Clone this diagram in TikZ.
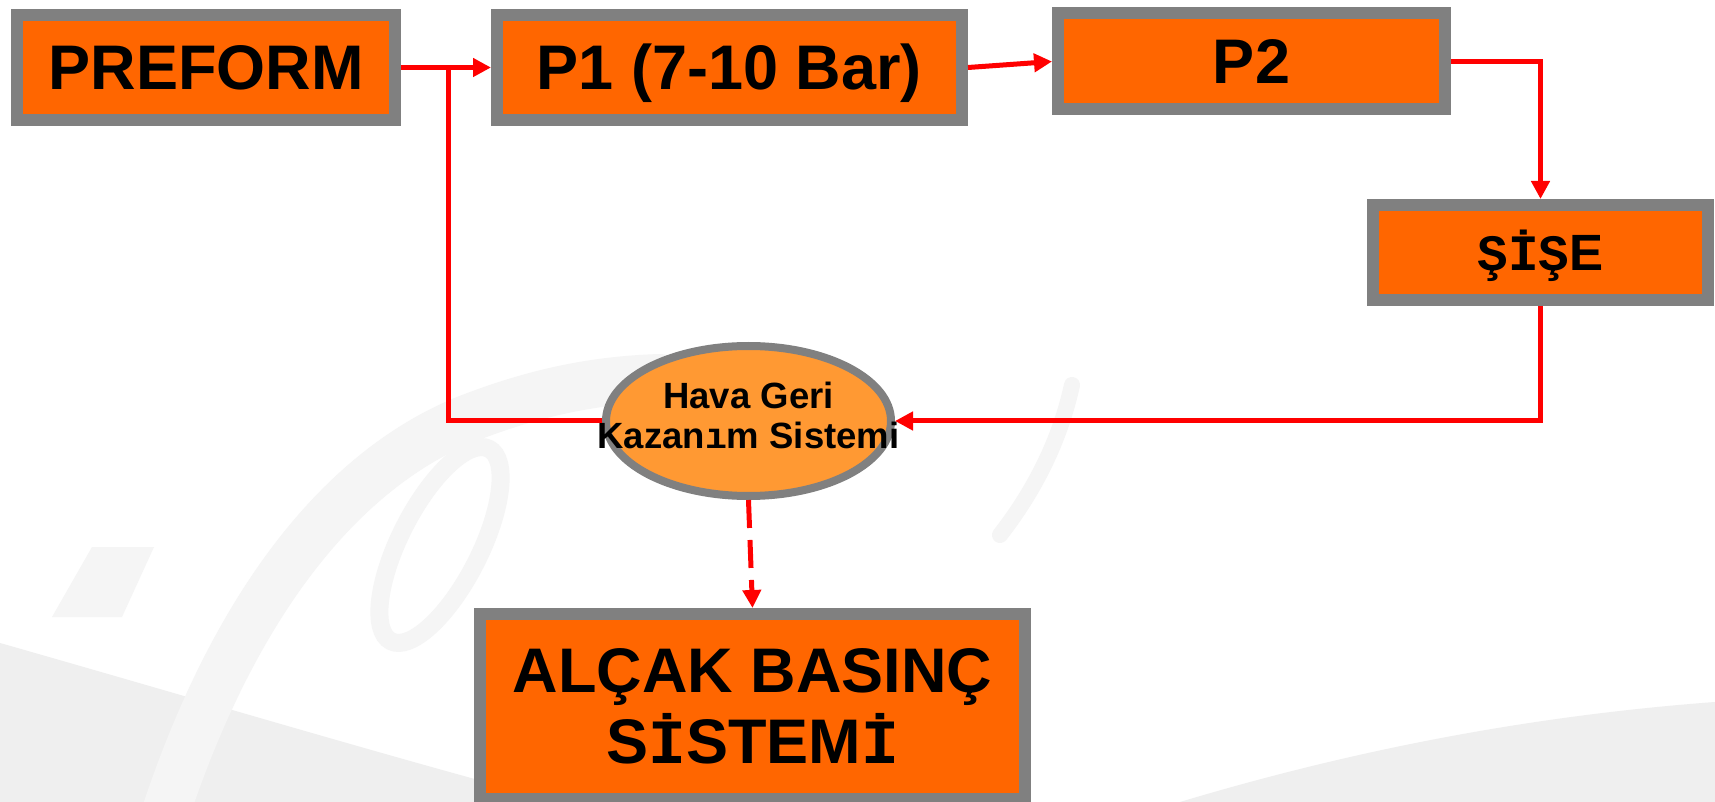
\documentclass[tikz,border=0pt]{standalone}
\usepackage{fontspec}
\setmainfont{Liberation Sans}
\newfontfamily\monof{Liberation Mono}
\usetikzlibrary{arrows.meta,shapes.geometric}
\definecolor{boxorange}{HTML}{FF6600}
\definecolor{ellorange}{HTML}{FF9933}
\definecolor{bordergray}{HTML}{808080}
\definecolor{wmA}{HTML}{F5F5F5}
\definecolor{wmB}{HTML}{EFEFEF}
\newcommand{\mI}{{\monof\bfseries İ}}
\newcommand{\mS}{{\monof\bfseries Ş}}
\newcommand{\mdotless}{{\monof\bfseries ı}}
\begin{document}
\begin{tikzpicture}[x=0.5pt,y=-0.5pt,
  procbox/.style={rectangle, draw=bordergray, line width=6pt, fill=boxorange,
    inner sep=0pt, align=center, font=\bfseries\fontsize{31.5}{35.5}\selectfont},
  oneline/.style={text height=22.5pt, text depth=0pt},
  ellnode/.style={ellipse, draw=bordergray, line width=4pt, fill=ellorange,
    inner sep=0pt},
  elltext/.style={align=center, inner sep=0pt, font=\bfseries\fontsize{18.25}{20}\selectfont},
  flow/.style={draw=red, line width=2.5pt},
  flowarrow/.style={-{Triangle[length=9pt,width=9pt]}},
  wmstroke/.style={draw=wmA, line cap=round}
]
\useasboundingbox (0,0) rectangle (1715,802);
\fill[white] (0,0) rectangle (1715,802);
% faint watermark
\fill[wmB] (0,643) .. controls (200,700) and (400,760) .. (560,802) -- (0,802) -- cycle;
\fill[wmB] (1180,802) .. controls (1320,760) and (1500,718) .. (1715,702) -- (1715,802) -- cycle;
\draw[wmstroke, line width=24pt] (160,830) .. controls (220,640) and (320,480) .. (464,420)
  .. controls (540,390) and (600,380) .. (660,378);
\draw[wmstroke, line width=8pt] (1072,385) .. controls (1060,440) and (1035,490) .. (1000,535);
\draw[wmstroke, line width=9pt, rotate around={-27:(440,545)}] (440,545) ellipse [x radius=40, y radius=108];
\fill[wmA] (92,547) -- (154,547) -- (122,617) -- (52,617) -- cycle;
% nodes
\node[procbox, oneline, minimum width=189pt, minimum height=52.5pt] (pre) at (206,67.5) {PREFORM};
\node[procbox, oneline, minimum width=232.5pt, minimum height=52.5pt] (p1) at (729.5,67.5) {P1 (7-10 Bar)};
\node[procbox, oneline, minimum width=193.5pt, minimum height=48pt] (p2) at (1251.5,61.5) {P2};
\node[procbox, minimum width=167.5pt, minimum height=47.5pt, text height=18.3pt, text depth=0pt,
  font=\bfseries\fontsize{25.5}{30}\selectfont] (sise) at (1540.5,252.5) {\mS\mI\mS E};
\node[ellnode, minimum width=142.5pt, minimum height=75pt] (hgk) at (748.5,421) {};
\node[elltext] (hgktext) at (748.5,415) {Hava Geri\\Kazan\mdotless m Sistemi};
\node[procbox, minimum width=272.5pt, minimum height=92.5pt] (alcak) at (752.5,706.5) {ALÇAK BASINÇ\\S\mI STEM\mI};
\coordinate (j) at (448,67.5);
% connectors
\draw[flow, flowarrow] (pre.east) -- (p1.west);
\draw[flow] (hgk.west) -| (j);
\draw[flow, flowarrow] (p1.east) -- (p2.west);
\draw[flow, flowarrow] (p2.east) -| (sise.north);
\draw[flow, flowarrow] (sise.south) |- (hgk.east);
\draw[flow, flowarrow, dash pattern=on 14pt off 6pt] (hgk.south) -- (alcak.north);
\end{tikzpicture}
\end{document}
